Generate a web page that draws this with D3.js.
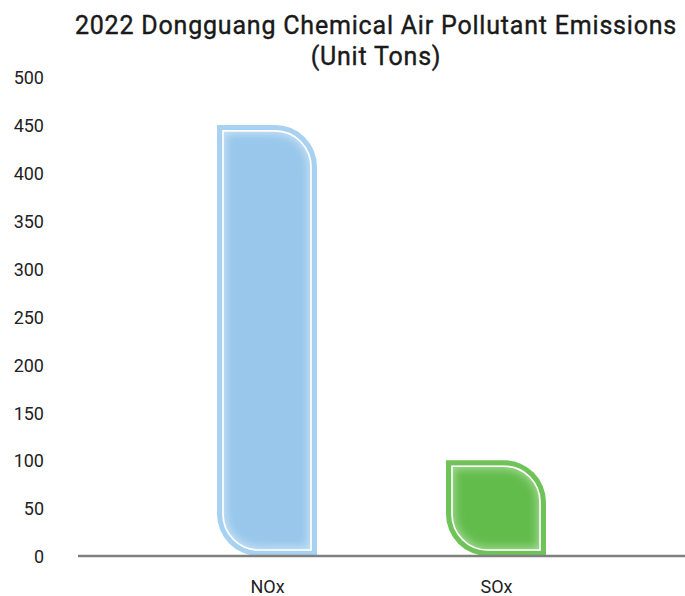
<!DOCTYPE html>
<html><head><meta charset="utf-8">
<script src="https://cdn.jsdelivr.net/npm/d3@7"></script>
<style>body{margin:0;background:#fff}svg{display:block}</style>
</head><body>
<script>
const categories = ["NOx", "SOx"];
const values = [450, 100];
const yTicks = [0, 50, 100, 150, 200, 250, 300, 350, 400, 450, 500];
const fills = ["#98c7eb", "#62bc4b"];
const borders = ["#a9d2f0", "#70c35a"];
const titleLines = ["2022 Dongguang Chemical Air Pollutant Emissions", "(Unit Tons)"];

const W = 685, H = 596;
const svg = d3.select("body").append("svg").attr("width", W).attr("height", H);
const y = d3.scaleLinear().domain([0, 500]).range([556, 77]);
const x = d3.scalePoint().domain(categories).range([267, 496]);
const bw = 100;

const defs = svg.append("defs");
const f = defs.append("filter").attr("id","glow").attr("x","-20%").attr("y","-20%").attr("width","140%").attr("height","140%");
f.append("feGaussianBlur").attr("stdDeviation", 4);

function leaf(cx, v, inset) {
  const x0 = cx - bw/2 + inset, x1 = cx + bw/2 - inset;
  const y0 = y(v) + inset, y1 = y(0) - inset;
  const r = Math.max(0, 42 - inset);
  return `M${x0},${y0} L${x1 - r},${y0} A${r},${r} 0 0 1 ${x1},${y0 + r} L${x1},${y1} L${x0 + r},${y1} A${r},${r} 0 0 1 ${x0},${y1 - r} Z`;
}

const g = svg.append("g");
categories.forEach((c, i) => {
  const cx = x(c);
  g.append("path").attr("d", leaf(cx, values[i], 0)).attr("fill", borders[i]);
  g.append("path").attr("d", leaf(cx, values[i], 5)).attr("fill", "#ffffff").attr("opacity", 0.35);
  g.append("path").attr("d", leaf(cx, values[i], 9)).attr("fill", fills[i]).attr("filter", "url(#glow)");
  g.append("path").attr("d", leaf(cx, values[i], 6)).attr("fill", "none").attr("stroke", "#ffffff").attr("stroke-width", 1.6);
});

// y tick labels
svg.append("g").selectAll("text").data(yTicks).join("text")
  .attr("x", 44).attr("y", d => y(d)).attr("dy", "0.4em")
  .attr("text-anchor", "end")
  .attr("font-family", "Roboto, 'Noto Sans', sans-serif").attr("font-size", 18).attr("fill", "#222")
  .text(d => d);

// x axis
const xAxis = d3.axisBottom(x).tickSize(0).tickPadding(0);
const ax = svg.append("g").attr("transform", `translate(0,${y(0)})`).call(xAxis);
ax.select(".domain").remove();
ax.append("line").attr("x1", 78).attr("x2", 685).attr("y1", 0).attr("y2", 0).attr("stroke", "#7f7f7f").attr("stroke-width", 2.5);
ax.selectAll(".tick text").attr("dy", null).attr("y", 37)
  .attr("font-family", "Roboto, 'Noto Sans', sans-serif").attr("font-size", 18).attr("fill", "#222");

// title
svg.append("g").selectAll("text").data(titleLines).join("text")
  .attr("x", 376).attr("y", (d, i) => 34 + i * 31)
  .attr("text-anchor", "middle")
  .attr("font-family", "Roboto, 'Noto Sans', sans-serif").attr("font-size", 25).attr("font-weight", 400)
  .attr("letter-spacing", 0.8).attr("fill", "#1a1a1a")
  .attr("stroke", "#1a1a1a").attr("stroke-width", 0.4)
  .text(d => d);
</script>
</body></html>
